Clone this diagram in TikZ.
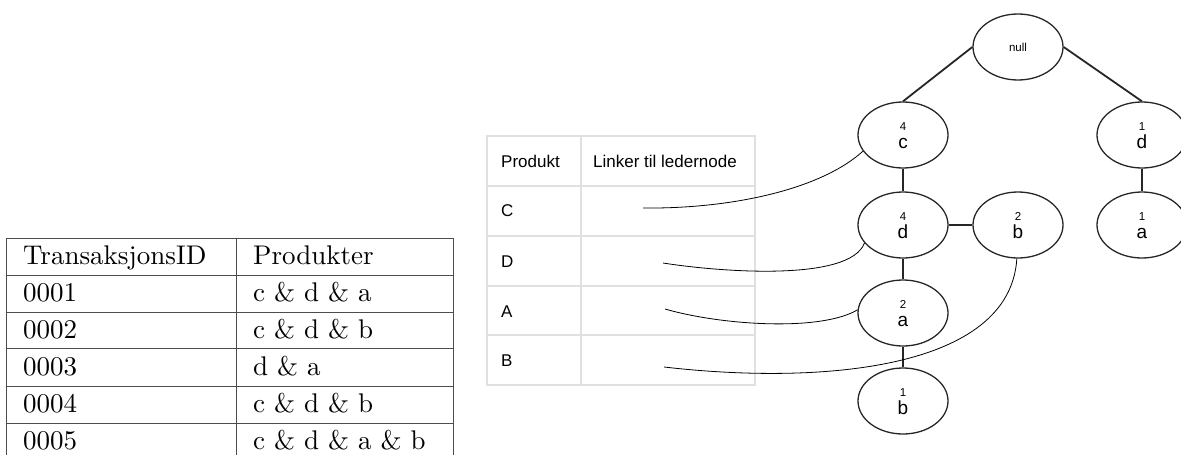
\documentclass[tikz,border=0pt]{standalone}
\usepackage{fontspec}
\newfontfamily\hel{Liberation Sans}
\newfontfamily\lmten{lmroman10-regular.otf}
\usetikzlibrary{shapes.geometric}
\tikzset{
  ltext/.style={anchor=base west,inner sep=0pt,font=\lmten\fontsize{27}{27}\selectfont},
  mtext/.style={anchor=base west,inner sep=0pt,font=\hel\fontsize{17}{17}\selectfont,text=black},
  ell/.style={draw=black!85,line width=1.3pt,ellipse,minimum width=90pt,minimum height=66pt,inner sep=0pt},
  num/.style={anchor=base,inner sep=0pt,font=\hel\fontsize{11.5}{11.5}\selectfont},
  let/.style={anchor=base,inner sep=0pt,font=\hel\fontsize{19}{19}\selectfont},
  tedge/.style={line width=1.8pt,black!85},
  link/.style={line width=0.8pt,black},
  ltab/.style={line width=1pt,black!70},
  mtab/.style={line width=1.2pt,black!12},
}
\begin{document}
\begin{tikzpicture}[x=1pt,y=-1pt]
\useasboundingbox (0,0) rectangle (1181,455);
% left table
\draw[ltab] (6,455) -- (6,238) -- (453,238) -- (453,455);
\draw[ltab] (236,238) -- (236,455);
\foreach \yy in {275,312,348,386,423} \draw[ltab] (6,\yy) -- (453,\yy);
\node[ltext] (h1) at (23,264) {TransaksjonsID};
\node[ltext] (h2) at (253,264) {Produkter};
\node[ltext] (r1a) at (23,301) {0001};
\node[ltext] (r1b) at (253,301) {c \& d \& a};
\node[ltext] (r2a) at (23,338) {0002};
\node[ltext] (r2b) at (253,338) {c \& d \& b};
\node[ltext] (r3a) at (23,375) {0003};
\node[ltext] (r3b) at (253,375) {d \& a};
\node[ltext] (r4a) at (23,412) {0004};
\node[ltext] (r4b) at (253,412) {c \& d \& b};
\node[ltext] (r5a) at (23,449) {0005};
\node[ltext] (r5b) at (253,449) {c \& d \& a \& b};
% middle table
\draw[mtab] (487,136) rectangle (755,385);
\draw[mtab] (581,136) -- (581,385);
\foreach \yy in {186,236,286,335} \draw[mtab] (487,\yy) -- (755,\yy);
\node[mtext] (mh1) at (501,167) {Produkt};
\node[mtext] (mh2) at (593,167) {Linker til ledernode};
\node[mtext] (mc) at (501,216) {C};
\node[mtext] (md) at (501,267) {D};
\node[mtext] (ma) at (501,317) {A};
\node[mtext] (mb) at (501,366) {B};
% tree
\node[ell] (null) at (1018,47) {};
\node[num] (nulltxt) at (1018,51) {null};
\node[ell] (c) at (903,135) {};
\node[num] (cn) at (903,130) {4};
\node[let] (cl) at (903,148) {c};
\node[ell] (d1) at (1142,135) {};
\node[num] (d1n) at (1142,130) {1};
\node[let] (d1l) at (1142,148) {d};
\node[ell] (d) at (903,225) {};
\node[num] (dn) at (903,220) {4};
\node[let] (dl) at (903,238) {d};
\node[ell] (b2) at (1018,225) {};
\node[num] (b2n) at (1018,220) {2};
\node[let] (b2l) at (1018,238) {b};
\node[ell] (a1) at (1142,225) {};
\node[num] (a1n) at (1142,220) {1};
\node[let] (a1l) at (1142,238) {a};
\node[ell] (a) at (903,313) {};
\node[num] (an) at (903,308) {2};
\node[let] (al) at (903,326) {a};
\node[ell] (b1) at (903,401) {};
\node[num] (b1n) at (903,396) {1};
\node[let] (b1l) at (903,414) {b};
\draw[tedge] (null.west) -- (c.north);
\draw[tedge] (null.east) -- (d1.north);
\draw[tedge] (c) -- (d);
\draw[tedge] (d) -- (b2);
\draw[tedge] (d) -- (a);
\draw[tedge] (a) -- (b1);
\draw[tedge] (d1) -- (a1);
% links
\coordinate (sc) at (643,208);
\coordinate (sd) at (663,263);
\coordinate (sa) at (665,309);
\coordinate (sb) at (664,367);
\draw[link] (sc) .. controls (730,209) and (820,190) .. (c.202);
\draw[link] (sd) .. controls (720,272) and (850,282) .. (d.205);
\draw[link] (sa) .. controls (720,325) and (820,332) .. (a.176);
\draw[link] (sb) .. controls (820,385) and (1010,370) .. (b2.268);
\end{tikzpicture}
\end{document}
